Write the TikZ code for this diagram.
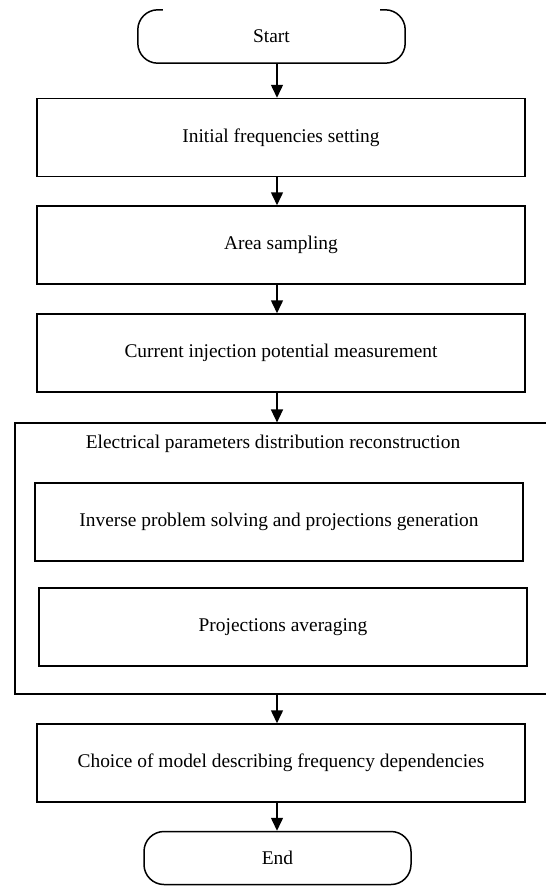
\documentclass[tikz,border=0pt]{standalone}
\usepackage{fontspec}
\setmainfont{Liberation Serif}
\usetikzlibrary{arrows.meta,calc}
\begin{document}
\begin{tikzpicture}[x=1pt,y=-1pt,
  box/.style={draw,line width=1.5pt,minimum width=488pt,minimum height=78pt,inner sep=0pt,font=\fontsize{19.4}{23}\selectfont},
  term/.style={minimum width=267pt,minimum height=53pt,inner sep=0pt,font=\fontsize{19.4}{23}\selectfont},
  arr/.style={line width=1.5pt,-{Triangle[width=12pt,length=13pt]}},
  txt/.style={font=\fontsize{19.4}{23}\selectfont,inner sep=0pt}]
\useasboundingbox (0,0) rectangle (546,886);
\fill[white] (0,0) rectangle (546,886);
\coordinate (ax) at (277,0);
% start
\node[term] (start) at (271.5,36.5) {Start};
\draw[line width=1.5pt,rounded corners=20pt] ($(start.north west)+(25,0)$) -- (start.north west) -- (start.south west) -- (start.south east) -- (start.north east) -- ($(start.north east)+(-25,0)$);
\node[box] (b1) at (281,137.5) {Initial frequencies setting};
\node[box] (b2) at (281,245) {Area sampling};
\node[box] (b3) at (281,353) {Current injection potential measurement};
% big container
\node[draw,line width=1.2pt,minimum width=535pt,minimum height=271pt,inner sep=0pt] (big) at (282.5,558.5) {};
\node[txt] (title) at (273,444) {Electrical parameters distribution reconstruction};
\node[box] (in1) at (279,522) {Inverse problem solving and projections generation};
\node[box] (in2) at (283,627) {Projections averaging};
\node[box] (b4) at (281,763) {Choice of model describing frequency dependencies};
\node[term,draw,line width=1.5pt,rounded corners=20pt] (end) at (277.5,858) {End};
% arrows
\draw[arr] (start.south -| ax) -- (b1.north -| ax);
\draw[arr] (b1.south -| ax) -- (b2.north -| ax);
\draw[arr] (b2.south -| ax) -- (b3.north -| ax);
\draw[arr] (b3.south -| ax) -- (big.north -| ax);
\draw[arr] (big.south -| ax) -- (b4.north -| ax);
\draw[arr] (b4.south -| ax) -- (end.north -| ax);
\end{tikzpicture}
\end{document}
